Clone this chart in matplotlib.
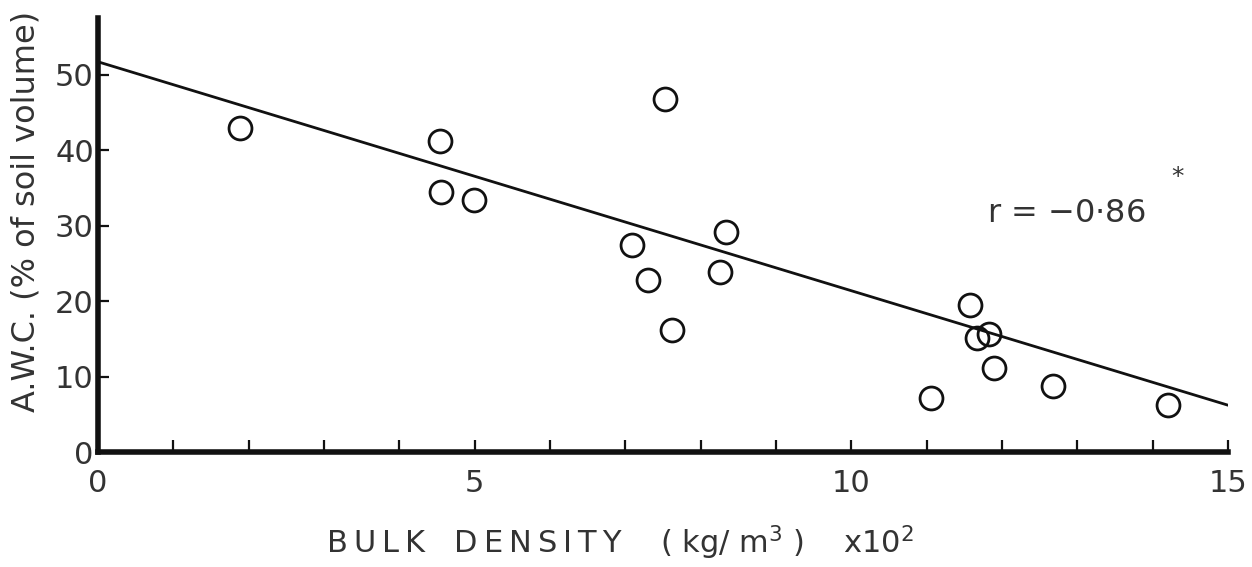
import matplotlib.pyplot as plt
import numpy as np

# bulk density (x10^2 kg/m3) and available water capacity (% soil volume)
bulk_density = [1.89, 4.54, 4.55, 4.99, 7.52, 7.09, 7.30, 7.62, 8.33, 8.25,
                11.57, 11.67, 11.83, 11.89, 12.67, 11.05, 14.20]
awc = [42.9, 41.2, 34.4, 33.4, 46.8, 27.4, 22.8, 16.2, 29.1, 23.8,
       19.5, 15.1, 15.6, 11.1, 8.7, 7.2, 6.2]

# regression line as drawn
fit_x = [0, 15]
fit_y = [51.7, 6.2]

x_labels = [0, 5, 10, 15]
y_labels = [0, 10, 20, 30, 40, 50]

plt.rcParams['font.family'] = ['DejaVu Sans']
text_color = '#333333'

fig = plt.figure(figsize=(12.52, 5.67), dpi=100)
ax = fig.add_axes([0.0783, 0.2028, 0.9026, 0.7654])

ax.plot(fit_x, fit_y, color='#111111', lw=2.0, solid_capstyle='round')
ax.plot(bulk_density, awc, linestyle='none', marker='o', ms=16.5,
        mfc='none', mec='#111111', mew=2.0)

ax.set_xlim(0, 15)
ax.set_ylim(0, 57.5)

for side in ['top', 'right']:
    ax.spines[side].set_visible(False)
for side in ['left', 'bottom']:
    ax.spines[side].set_linewidth(4)
    ax.spines[side].set_color('#111111')

ax.set_xticks(x_labels)
ax.set_xticks(np.arange(1, 16), minor=True)
ax.set_yticks(y_labels)
ax.tick_params(axis='x', which='both', direction='in', length=9, width=1.6,
               color='#111111', labelsize=22, labelcolor=text_color, pad=12)
ax.tick_params(axis='y', which='major', direction='in', length=8, width=1.6,
               color='#111111', labelsize=22, labelcolor=text_color, pad=3)

# spaced-out lettering, like the stencilled original
ts = '\u2009'
xlabel = (ts.join('BULK') + '   ' + ts.join('DENSITY') + '    ( kg/ m$^3$ )    x10$^2$')
ax.set_xlabel(xlabel, fontsize=22, color=text_color)
ax.xaxis.set_label_coords(0.462, -0.165)
ax.set_ylabel('A.W.C. (% of soil volume)', fontsize=23, color=text_color)
ax.yaxis.set_label_coords(-0.05, 0.555)

ax.text(0.787, 0.55, 'r = $-$0$\\cdot$86', transform=ax.transAxes,
        fontsize=23, color=text_color, va='center')
ax.text(0.955, 0.634, '*', transform=ax.transAxes, fontsize=18,
        color=text_color, ha='center', va='center')

fig.savefig('out.png', dpi=100)
